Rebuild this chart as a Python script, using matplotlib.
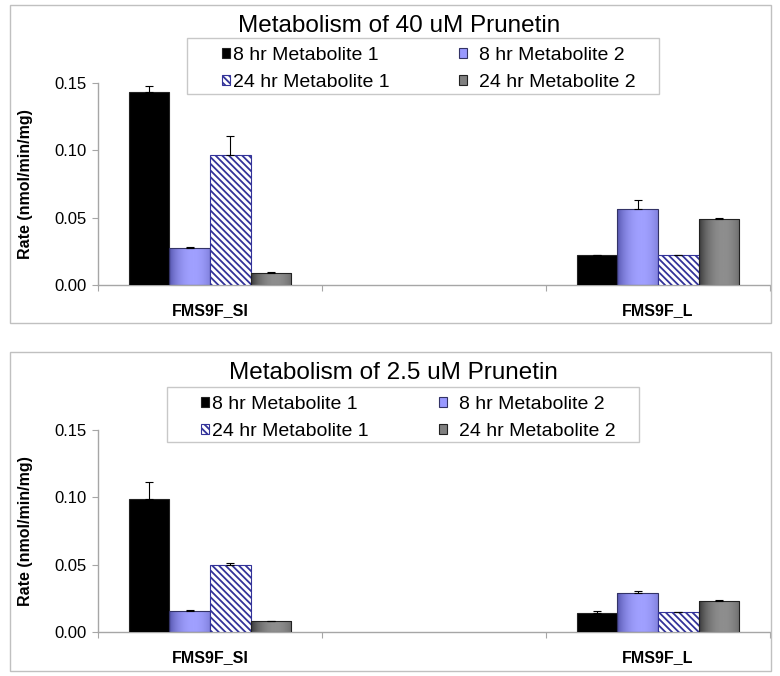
import numpy as np
import matplotlib
matplotlib.use("Agg")
import matplotlib.pyplot as plt
from matplotlib.patches import Rectangle
from matplotlib.colors import LinearSegmentedColormap

plt.rcParams['font.family'] = ['Liberation Sans', 'DejaVu Sans']
plt.rcParams['hatch.linewidth'] = 1.3

# ---------------- data ----------------
categories = ["FMS9F_SI", "", "FMS9F_L"]
series_labels = ["8 hr Metabolite 1", "8 hr Metabolite 2",
                 "24 hr Metabolite 1", "24 hr Metabolite 2"]
titles = ["Metabolism of 40 uM Prunetin", "Metabolism of 2.5 uM Prunetin"]
y_ticks = [0.00, 0.05, 0.10, 0.15]
y_label = "Rate (nmol/min/mg)"
nan = np.nan

# 40 uM panel
p40_8h_m1 = [0.143, nan, 0.0223]
p40_8h_m2 = [0.0272, nan, 0.0562]
p40_24h_m1 = [0.0963, nan, 0.0221]
p40_24h_m2 = [0.0087, nan, 0.0490]
p40_8h_m1_err = [0.0050, nan, 0.0]
p40_8h_m2_err = [0.0013, nan, 0.0067]
p40_24h_m1_err = [0.0143, nan, 0.0003]
p40_24h_m2_err = [0.0012, nan, 0.0008]

# 2.5 uM panel
p25_8h_m1 = [0.0988, nan, 0.0143]
p25_8h_m2 = [0.0156, nan, 0.0289]
p25_24h_m1 = [0.0497, nan, 0.0148]
p25_24h_m2 = [0.0079, nan, 0.0232]
p25_8h_m1_err = [0.0124, nan, 0.0012]
p25_8h_m2_err = [0.0007, nan, 0.0016]
p25_24h_m1_err = [0.0012, nan, 0.0003]
p25_24h_m2_err = [0.0, nan, 0.0007]

# ---------------- styles ----------------
W, H = 780, 676
NAVY = '#333399'
AX_GRAY = '#a6a6a6'
blue_cmap = LinearSegmentedColormap.from_list('b', ['#5050a8', '#a0a0ff'])
gray_cmap = LinearSegmentedColormap.from_list('g', ['#333333', '#8e8e8e'])
t = np.linspace(0, 1, 128)
profile = np.clip(1 - ((t - 0.6) / 0.6) ** 2, 0, 1) ** 0.8

styles = [
    dict(kind='solid', face='black', edge='#222222'),
    dict(kind='grad', cmap=blue_cmap, face='#9999ff', edge='#333366'),
    dict(kind='hatch', face='white', edge=NAVY, hatch='\\\\\\\\\\'),
    dict(kind='grad', cmap=gray_cmap, face='#808080', edge='#222222'),
]

fig = plt.figure(figsize=(W / 100, H / 100), dpi=100)


def fx(x):
    return x / W


def fy(y):
    return (H - y) / H


def draw_panel(ax, values, errors):
    n = len(values)
    x = np.arange(len(categories))
    bw = 1 / 5.5
    for i, (vals, errs, st) in enumerate(zip(values, errors, styles)):
        xs = x + (i - (n - 1) / 2) * bw
        vals = np.asarray(vals, float)
        errs = np.asarray(errs, float)
        if st['kind'] == 'grad':
            bars = ax.bar(xs, vals, bw, facecolor='none', edgecolor=st['edge'],
                          linewidth=0.8, zorder=3)
            for b in bars:
                h = b.get_height()
                if not np.isfinite(h) or h <= 0:
                    continue
                x0, y0 = b.get_xy()
                im = ax.imshow(profile[np.newaxis, :], cmap=st['cmap'], vmin=0, vmax=1,
                               extent=(x0, x0 + b.get_width(), y0, y0 + h),
                               aspect='auto', interpolation='bilinear', zorder=2)
                im.set_clip_path(b)
        elif st['kind'] == 'hatch':
            ax.bar(xs, vals, bw, facecolor=st['face'], edgecolor=st['edge'],
                   hatch=st['hatch'], linewidth=0.8, zorder=3)
        else:
            ax.bar(xs, vals, bw, facecolor=st['face'], edgecolor=st['edge'],
                   linewidth=0.8, zorder=3)
        ax.errorbar(xs, vals, yerr=[np.zeros_like(errs), errs], fmt='none',
                    ecolor='black', elinewidth=0.8, capsize=3, capthick=0.8, zorder=4)

    ax.set_xlim(-0.5, len(categories) - 0.5)
    ax.set_ylim(0, 0.15)
    ax.set_yticks(y_ticks)
    ax.set_yticklabels([f"{v:.2f}" for v in y_ticks], fontsize=12)
    ax.set_xticks(np.arange(len(categories) + 1) - 0.5)
    ax.set_xticklabels([])
    ax.set_xticks(x, minor=True)
    ax.set_xticklabels(categories, minor=True, fontsize=11.5, fontweight='bold')
    ax.tick_params(axis='x', which='minor', length=0, pad=13)
    ax.tick_params(axis='x', which='major', length=4.5, direction='out', color=AX_GRAY)
    ax.tick_params(axis='y', length=4.5, direction='out', color=AX_GRAY, pad=4)
    for s in ['top', 'right']:
        ax.spines[s].set_visible(False)
    for s in ['left', 'bottom']:
        ax.spines[s].set_color(AX_GRAY)
        ax.spines[s].set_linewidth(1.0)
    ax.set_ylabel(y_label, fontsize=11.5, fontweight='bold')
    ax.yaxis.set_label_coords((33 - 98) / 672, 0.5)
    ax.set_facecolor('none')


def legend_handles():
    hs = []
    for st in styles:
        if st['kind'] == 'hatch':
            hs.append(Rectangle((0, 0), 1, 1, facecolor='white', edgecolor=NAVY,
                                hatch=st['hatch'], linewidth=0.8))
        else:
            hs.append(Rectangle((0, 0), 1, 1, facecolor=st['face'],
                                edgecolor=st['edge'], linewidth=0.8))
    return hs


panels = [
    dict(vals=[p40_8h_m1, p40_8h_m2, p40_24h_m1, p40_24h_m2],
         errs=[p40_8h_m1_err, p40_8h_m2_err, p40_24h_m1_err, p40_24h_m2_err],
         frame=(10, 5, 771, 323), ax=(98, 83, 770, 285), title_xy=(399, 26),
         lbox=(187, 38, 659, 94), lcols=[(222, 0.15), (459, 0.65)], ltop=47),
    dict(vals=[p25_8h_m1, p25_8h_m2, p25_24h_m1, p25_24h_m2],
         errs=[p25_8h_m1_err, p25_8h_m2_err, p25_24h_m1_err, p25_24h_m2_err],
         frame=(10, 352, 771, 671), ax=(98, 430, 770, 632), title_xy=(393, 373),
         lbox=(167, 387, 639, 442), lcols=[(201, 0.15), (439, 0.65)], ltop=396),
]

for p, title in zip(panels, titles):
    fx0, fy0, fx1, fy1 = p['frame']
    fig.patches.append(Rectangle((fx(fx0), fy(fy1)), fx(fx1) - fx(fx0), fy(fy0) - fy(fy1),
                                 transform=fig.transFigure, fill=False,
                                 edgecolor='#c0c0c0', linewidth=1.0, zorder=0))
    ax0, ay0, ax1, ay1 = p['ax']
    ax = fig.add_axes([fx(ax0), fy(ay1), fx(ax1) - fx(ax0), fy(ay0) - fy(ay1)])
    draw_panel(ax, p['vals'], p['errs'])
    lx0, ly0, lx1, ly1 = p['lbox']
    fig.patches.append(Rectangle((fx(lx0), fy(ly1)), fx(lx1) - fx(lx0), fy(ly0) - fy(ly1),
                                 transform=fig.transFigure, facecolor='white',
                                 edgecolor='#c8c8c8', linewidth=1.0, zorder=4))
    hs = legend_handles()
    columns = [[0, 2], [1, 3]]
    for idxs, (lx, pad) in zip(columns, p['lcols']):
        leg = fig.legend([hs[i] for i in idxs], [series_labels[i] for i in idxs],
                         loc='upper left', bbox_to_anchor=(fx(lx), fy(p['ltop'])),
                         bbox_transform=fig.transFigure, ncol=1, frameon=False,
                         borderpad=0, borderaxespad=0, handlelength=0.4, handleheight=0.4,
                         handletextpad=pad, labelspacing=0.5, fontsize=14)
        leg.set_zorder(6)
    tx, ty = p['title_xy']
    fig.text(fx(tx), fy(ty), title, ha='center', va='center', fontsize=17.5)

fig.savefig('out.png', dpi=100)
